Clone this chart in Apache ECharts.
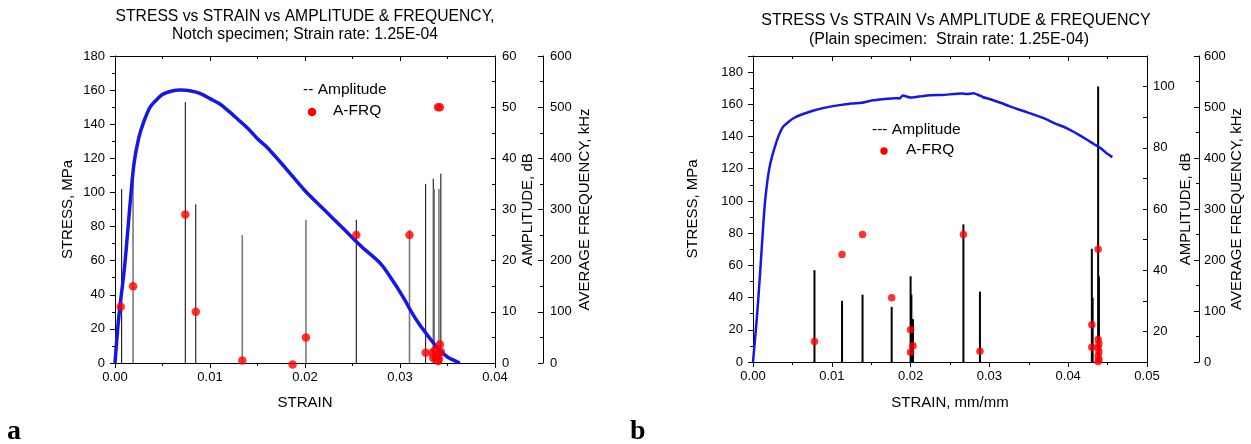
<!DOCTYPE html>
<html>
<head>
<meta charset="utf-8">
<script src="https://cdn.jsdelivr.net/npm/echarts@6/dist/echarts.min.js"></script>
<style>
html,body{margin:0;padding:0;background:#fff;}
#chart{width:1251px;height:444px;}
</style>
</head>
<body>
<div id="chart"></div>
<script>
// ---------- Chart (a): notch specimen ----------
const strainA = [0, 0.0004, 0.0010, 0.0016, 0.0020, 0.0025, 0.0030, 0.0037, 0.0045, 0.0050, 0.0060, 0.0069, 0.0080, 0.0090, 0.0100, 0.0110, 0.0120, 0.0130, 0.0140, 0.0150, 0.0160, 0.0180, 0.0200, 0.0220, 0.0240, 0.0260, 0.0280, 0.0295, 0.0305, 0.0312, 0.0320, 0.0330, 0.0340, 0.0350, 0.0363];
const stressA = [0, 27, 56, 94, 117, 132, 141, 150, 155, 157.5, 159.5, 160, 159.5, 158, 155, 152, 147.5, 142.5, 137.5, 131.5, 126.5, 114, 101, 90, 79, 68, 58, 46, 37, 30, 23, 15.5, 8.5, 3.5, 0];

const ampBlackStrainA = [0.0007, 0.0074, 0.0085, 0.0254, 0.0327, 0.0335, 0.0343];
const ampBlackA       = [34, 51, 31, 28, 35, 36, 37];
const ampGrayStrainA  = [0.0019, 0.0134, 0.0201, 0.0310, 0.0336, 0.0341];
const ampGrayA        = [37, 25, 28, 26, 34, 34];

const frqStrainA = [0.0006, 0.0019, 0.0074, 0.0085, 0.0134, 0.0187, 0.0201, 0.0254, 0.0310, 0.0340, 0.0342, 0.0327, 0.0334, 0.0335, 0.0337, 0.0338, 0.0340, 0.0340, 0.0342, 0.0343, 0.0341];
const frqA       = [110, 150, 290, 100, 5, -3, 50, 250, 250, 500, 500, 20, 20, 10, 26, 10, 4, 15, 36, 22, 8];

// ---------- Chart (b): plain specimen ----------
const strainB = [0, 0.0005, 0.0009, 0.0013, 0.0016, 0.0021, 0.0030, 0.0038, 0.0046, 0.0052, 0.0061, 0.0076, 0.0090, 0.0110, 0.0125, 0.0138, 0.0152, 0.0165, 0.0180, 0.0186, 0.0190, 0.0194, 0.0200, 0.0210, 0.0225, 0.0240, 0.0255, 0.0265, 0.0271, 0.0280, 0.0286, 0.0292, 0.0300, 0.0315, 0.0326, 0.0342, 0.0369, 0.0383, 0.0398, 0.0412, 0.0424, 0.0433, 0.0441, 0.0448, 0.0456];
const stressB = [0, 28, 55, 85, 103, 121, 137, 146, 149.5, 151.5, 153.5, 156, 157.8, 159.5, 160.5, 161, 162.5, 163.2, 163.8, 163.6, 165.4, 165, 164.2, 164.8, 165.6, 165.8, 166.4, 166.7, 166.4, 166.8, 165.8, 164.4, 163.3, 160.8, 158.7, 156, 151.4, 148.2, 145.2, 141.5, 138, 135.2, 132.8, 130, 127.2];

const ampStrainB = [0.0078, 0.0113, 0.0139, 0.0176, 0.0200, 0.0201, 0.0203, 0.0267, 0.0288, 0.0430, 0.0431, 0.0438, 0.0439];
const ampB       = [40, 30, 32, 28, 38, 32, 24, 55, 33, 47, 31, 100, 38];

const frqStrainB = [0.0078, 0.0113, 0.0139, 0.0176, 0.0200, 0.0203, 0.0200, 0.0267, 0.0288, 0.0430, 0.0430, 0.0438, 0.0438, 0.0439, 0.0438, 0.0439, 0.0438, 0.0439, 0.0438];
const frqB       = [40, 211, 250, 126, 63, 32, 19, 250, 21, 73, 29, 221, 44, 36, 28, 20, 12, 5, 1];

const zip = (a, b) => a.map((v, i) => [v, b[i]]);

const FONT = 'Liberation Sans, Arial, sans-serif';
const BLUE = '#1616e8';
const RED = '#ff0000';

function xBottom(grid, max, name, nameGap) {
  return {
    type: 'value', gridIndex: grid, position: 'bottom', min: 0, max: max, interval: 0.01,
    axisLine: {show: true, onZero: false, lineStyle: {color: '#000', width: 1}},
    axisTick: {show: true, inside: false, length: 5, lineStyle: {color: '#000'}},
    minorTick: {show: true, splitNumber: 2, length: 3, lineStyle: {color: '#000'}},
    splitLine: {show: false},
    axisLabel: {color: '#000', fontSize: 13, fontFamily: FONT, margin: 8, formatter: v => v.toFixed(2)},
    name: name, nameLocation: 'middle', nameGap: nameGap,
    nameTextStyle: {color: '#000', fontSize: 15, fontFamily: FONT}
  };
}
function xTop(grid, max) {
  return {
    type: 'value', gridIndex: grid, position: 'top', min: 0, max: max, interval: 0.01,
    axisLine: {show: true, onZero: false, lineStyle: {color: '#000', width: 1}},
    axisTick: {show: true, inside: true, length: 5, lineStyle: {color: '#000'}},
    minorTick: {show: true, splitNumber: 2, length: 3, lineStyle: {color: '#000'}},
    splitLine: {show: false},
    axisLabel: {show: false}
  };
}
function yAxisCfg(o) {
  return {
    type: 'value', gridIndex: o.grid, position: o.pos, offset: o.offset || 0,
    min: o.min, max: o.max, interval: o.interval,
    axisLine: {show: true, onZero: false, lineStyle: {color: '#000', width: 1}},
    axisTick: {show: true, inside: o.inside, length: o.tick || 5, lineStyle: {color: '#000'}},
    minorTick: {show: o.minor !== false, splitNumber: 2, length: 3, lineStyle: {color: '#000'}},
    splitLine: {show: false},
    axisLabel: {color: '#000', fontSize: 13, fontFamily: FONT, margin: o.margin,
      formatter: o.fmt || (v => String(v))},
    name: o.name, nameLocation: 'middle', nameGap: o.nameGap,
    nameTextStyle: {color: '#000', fontSize: 15, fontFamily: FONT}
  };
}

function stickSeries(xi, yi, strains, amps, base, color, width) {
  return {
    type: 'custom', xAxisIndex: xi, yAxisIndex: yi, z: 2,
    data: zip(strains, amps),
    encode: {x: 0, y: 1},
    renderItem: function (params, api) {
      const p0 = api.coord([api.value(0), base]);
      const p1 = api.coord([api.value(0), api.value(1)]);
      return {type: 'line', shape: {x1: p0[0], y1: p0[1], x2: p1[0], y2: p1[1]},
        style: {stroke: color, lineWidth: width}};
    }
  };
}

const chart = echarts.init(document.getElementById('chart'), null, {renderer: 'canvas'});
const option = {
  animation: false,
  backgroundColor: '#fff',
  textStyle: {fontFamily: FONT},
  title: [
    {text: 'STRESS vs STRAIN vs AMPLITUDE & FREQUENCY,\nNotch specimen; Strain rate: 1.25E-04',
     left: 305, top: 7, textAlign: 'center', padding: 0,
     textStyle: {fontSize: 15.7, fontWeight: 'normal', color: '#000', fontFamily: FONT, lineHeight: 18.5}},
    {text: 'STRESS Vs STRAIN Vs AMPLITUDE & FREQUENCY',
     left: 956, top: 13, textAlign: 'center', padding: 0,
     textStyle: {fontSize: 16, fontWeight: 'normal', color: '#000', fontFamily: FONT}},
    {text: '(Plain specimen:  Strain rate: 1.25E-04)',
     left: 949, top: 32, textAlign: 'center', padding: 0,
     textStyle: {fontSize: 16, fontWeight: 'normal', color: '#000', fontFamily: FONT}}
  ],
  grid: [
    {left: 115, right: 756, top: 56, bottom: 81},
    {left: 753, right: 104, top: 56, bottom: 82}
  ],
  xAxis: [
    xBottom(0, 0.04, 'STRAIN', 32),
    xTop(0, 0.04),
    xBottom(1, 0.05, 'STRAIN, mm/mm', 33),
    xTop(1, 0.05)
  ],
  yAxis: [
    yAxisCfg({grid: 0, pos: 'left', min: 0, max: 180, interval: 20, inside: false, margin: 10,
      name: 'STRESS, MPa', nameGap: 40}),
    yAxisCfg({grid: 0, pos: 'right', min: 0, max: 60, interval: 10, inside: true, tick: 4, margin: 7,
      name: 'AMPLITUDE, dB', nameGap: 25}),
    yAxisCfg({grid: 0, pos: 'right', offset: 48, min: 0, max: 600, interval: 100, inside: true, margin: 7,
      name: 'AVERAGE FREQUENCY, kHz', nameGap: 34}),
    yAxisCfg({grid: 1, pos: 'left', min: 0, max: 190, interval: 20, inside: false, margin: 10,
      fmt: v => (v % 20 === 0 ? String(v) : ''), name: 'STRESS, MPa', nameGap: 53}),
    yAxisCfg({grid: 1, pos: 'right', min: 10, max: 110, interval: 10, inside: true, tick: 4, margin: 6, minor: false,
      fmt: v => (v % 20 === 0 ? String(v) : ''), name: 'AMPLITUDE, dB', nameGap: 27}),
    yAxisCfg({grid: 1, pos: 'right', offset: 52, min: 0, max: 600, interval: 100, inside: true, margin: 5,
      name: 'AVERAGE FREQUENCY, kHz', nameGap: 27})
  ],
  series: [
    stickSeries(0, 1, ampBlackStrainA, ampBlackA, 0, '#000', 1),
    stickSeries(0, 1, ampGrayStrainA, ampGrayA, 0, '#7a7a7a', 1.6),
    {type: 'line', xAxisIndex: 0, yAxisIndex: 0, data: zip(strainA, stressA), showSymbol: false,
     smooth: 0.3, z: 3, lineStyle: {color: BLUE, width: 3.5}},
    {type: 'scatter', xAxisIndex: 0, yAxisIndex: 2, data: zip(frqStrainA, frqA), symbol: 'circle',
     symbolSize: 8.5, clip: false, z: 4, itemStyle: {color: RED}},

    stickSeries(2, 4, ampStrainB, ampB, 10, '#000', 2),
    {type: 'line', xAxisIndex: 2, yAxisIndex: 3, data: zip(strainB, stressB), showSymbol: false,
     smooth: 0.2, z: 3, lineStyle: {color: BLUE, width: 2.5}},
    {type: 'scatter', xAxisIndex: 2, yAxisIndex: 5, data: zip(frqStrainB, frqB), symbol: 'circle',
     symbolSize: 7.5, clip: false, z: 4, itemStyle: {color: RED}}
  ],
  graphic: [
    {type: 'text', left: 303, top: 82, style: {text: '-- Amplitude', font: '15.5px ' + FONT, fill: '#000'}},
    {type: 'circle', shape: {cx: 312, cy: 112, r: 4.3}, style: {fill: RED}},
    {type: 'text', left: 333, top: 103, style: {text: 'A-FRQ', font: '15.5px ' + FONT, fill: '#000'}},
    {type: 'text', left: 872, top: 122, style: {text: '--- Amplitude', font: '15.5px ' + FONT, fill: '#000'}},
    {type: 'circle', shape: {cx: 884, cy: 151, r: 3.7}, style: {fill: RED}},
    {type: 'text', left: 906, top: 142, style: {text: 'A-FRQ', font: '15.5px ' + FONT, fill: '#000'}},
    {type: 'text', left: 7, top: 418, style: {text: 'a', font: 'bold 28px Liberation Serif, serif', fill: '#000'}},
    {type: 'text', left: 630, top: 418, style: {text: 'b', font: 'bold 28px Liberation Serif, serif', fill: '#000'}}
  ]
};
chart.setOption(option);
</script>
</body>
</html>
